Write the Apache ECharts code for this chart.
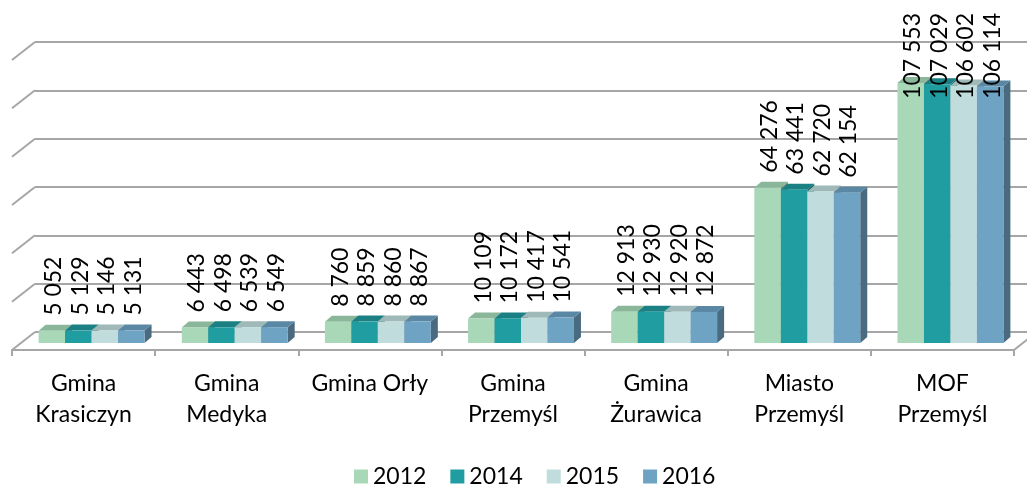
<!DOCTYPE html>
<html>
<head>
<meta charset="utf-8">
<script src="https://cdn.jsdelivr.net/npm/echarts@6/dist/echarts.min.js"></script>
<style>
html, body { margin: 0; padding: 0; background: #fff; }
#chart { width: 1027px; height: 486px; }
</style>
</head>
<body>
<div id="chart"></div>
<script>
// dane
var categories = ['Gmina\nKrasiczyn', 'Gmina\nMedyka', 'Gmina Orły', 'Gmina\nPrzemyśl', 'Gmina\nŻurawica', 'Miasto\nPrzemyśl', 'MOF\nPrzemyśl'];
var years = ['2012', '2014', '2015', '2016'];
var values2012 = [5052, 6443, 8760, 10109, 12913, 64276, 107553];
var values2014 = [5129, 6498, 8859, 10172, 12930, 63441, 107029];
var values2015 = [5146, 6539, 8860, 10417, 12920, 62720, 106602];
var values2016 = [5131, 6549, 8867, 10541, 12872, 62154, 106114];
var wallTicks = [0, 20000, 40000, 60000, 80000, 100000, 120000];

var allValues = [values2012, values2014, values2015, values2016];

var frontColors = ['#a9d8b8', '#209da1', '#c0dcdc', '#6fa3c4'];
var topColors = ['#8ab79a', '#1a8084', '#9fb8b8', '#5a87a4'];
var sideColors = ['#708f7c', '#14666a', '#839999', '#4a6a80'];

var FONT = 'Lato, "Open Sans", sans-serif';
var DX = 7, DY = 6;          // głębokość słupka
var WALL_DX = 23, WALL_DY = 18;  // głębokość ściany

var chart = echarts.init(document.getElementById('chart'));

// szerokość tekstu etykiety
var measureCtx = document.createElement('canvas').getContext('2d');
measureCtx.font = '23px ' + FONT;

function fmt(v) {
	return String(v).replace(/\B(?=(\d{3})+(?!\d))/g, ' ');
}

function barGeom(api, i) {
	var cat = api.value(0), v = api.value(1);
	var base = api.coord([cat, 0]);
	var top = api.coord([cat, v]);
	var band = api.size([1, 0])[0];
	var groupW = band * 0.74;
	var bw = groupW / 4;
	var x0 = base[0] - groupW / 2 + i * bw;
	return { x0: x0, bw: bw, topY: top[1], baseY: base[1], v: v };
}

function makeBarSeries(i) {
	return {
		type: 'custom',
		name: years[i],
		xAxisIndex: 1,
		yAxisIndex: 1,
		z: 2,
		itemStyle: { color: frontColors[i] },
		data: allValues[i].map(function (v, k) { return [k, v]; }),
		renderItem: function (params, api) {
			var g = barGeom(api, i);
			var x0 = g.x0, bw = g.bw, t = g.topY, b = g.baseY;
			return {
				type: 'group',
				children: [
					{
						type: 'polygon',
						shape: { points: [[x0 + bw, t], [x0 + bw + DX, t - DY], [x0 + bw + DX, b - DY], [x0 + bw, b]] },
						style: { fill: sideColors[i] }
					},
					{
						type: 'polygon',
						shape: { points: [[x0, t], [x0 + DX, t - DY], [x0 + bw + DX, t - DY], [x0 + bw, t]] },
						style: { fill: topColors[i] }
					},
					{
						type: 'rect',
						shape: { x: x0, y: t, width: bw, height: b - t },
						style: { fill: frontColors[i] }
					}
				]
			};
		}
	};
}

function makeLabelSeries(i) {
	return {
		type: 'custom',
		name: years[i] + ' etykiety',
		xAxisIndex: 1,
		yAxisIndex: 1,
		z: 5,
		silent: true,
		data: allValues[i].map(function (v, k) { return [k, v]; }),
		renderItem: function (params, api) {
			var g = barGeom(api, i);
			var txt = fmt(g.v);
			var len = measureCtx.measureText(txt).width;
			var y = g.topY - 15;
			// etykieta nie może wyjść poza górną krawędź
			if (y - len < 13) y = 13 + len;
			return {
				type: 'text',
				x: g.x0 + g.bw / 2 + 2,
				y: y,
				rotation: Math.PI / 2,
				style: {
					text: txt,
					fill: '#000',
					font: '23px ' + FONT,
					align: 'left',
					verticalAlign: 'middle'
				}
			};
		}
	};
}

var series = [
	{
		// skośne linie ściany bocznej
		type: 'custom',
		name: 'wall',
		xAxisIndex: 0,
		yAxisIndex: 0,
		silent: true,
		z: 1,
		data: wallTicks.map(function (v) { return [0, v]; }),
		renderItem: function (params, api) {
			var cs = params.coordSys;
			var y = api.coord([0, api.value(1)])[1];
			return {
				type: 'line',
				shape: { x1: cs.x - WALL_DX, y1: y + WALL_DY, x2: cs.x, y2: y },
				style: { stroke: '#a6a6a6', lineWidth: 2 }
			};
		}
	},
	{
		// prawa krawędź podłogi
		type: 'custom',
		name: 'floor',
		xAxisIndex: 2,
		yAxisIndex: 2,
		silent: true,
		z: 1,
		data: [[0, 0]],
		renderItem: function (params, api) {
			var cs = params.coordSys;
			var x = cs.x + cs.width, y = cs.y + cs.height;
			return {
				type: 'line',
				shape: { x1: x, y1: y, x2: x + WALL_DX, y2: y - WALL_DY },
				style: { stroke: '#a6a6a6', lineWidth: 2 }
			};
		}
	}
];

for (var i = 0; i < 4; i++) series.push(makeBarSeries(i));
for (var j = 0; j < 4; j++) series.push(makeLabelSeries(j));

chart.setOption({
	animation: false,
	backgroundColor: '#fff',
	grid: [
		{ left: 35, right: 0, top: 42, bottom: 154 },   // ściana
		{ left: 20, right: 5, top: 53, bottom: 143 },   // słupki
		{ left: 12, right: 13, top: 53, bottom: 136 }   // podłoga
	],
	xAxis: [
		{ gridIndex: 0, type: 'category', data: categories, show: false },
		{ gridIndex: 1, type: 'category', data: categories, show: false },
		{
			gridIndex: 2,
			type: 'category',
			data: categories,
			axisLine: { lineStyle: { color: '#a6a6a6', width: 2 } },
			axisTick: { show: true, length: 6, lineStyle: { color: '#a6a6a6', width: 2 } },
			axisLabel: {
				interval: 0,
				margin: 18,
				color: '#000',
				fontFamily: FONT,
				fontSize: 23,
				lineHeight: 31
			}
		}
	],
	yAxis: [
		{
			gridIndex: 0,
			type: 'value',
			min: 0,
			max: 120000,
			interval: 20000,
			axisLine: { show: false },
			axisTick: { show: false },
			axisLabel: { show: false },
			splitLine: { lineStyle: { color: '#a6a6a6', width: 2 } }
		},
		{ gridIndex: 1, type: 'value', min: 0, max: 120000, show: false, splitLine: { show: false } },
		{ gridIndex: 2, type: 'value', min: 0, max: 1, show: false, splitLine: { show: false } }
	],
	legend: {
		data: years,
		left: 349,
		top: 460,
		icon: 'rect',
		itemWidth: 14,
		itemHeight: 14,
		itemGap: 24,
		textStyle: { color: '#000', fontFamily: FONT, fontSize: 23 }
	},
	series: series
});
</script>
</body>
</html>
